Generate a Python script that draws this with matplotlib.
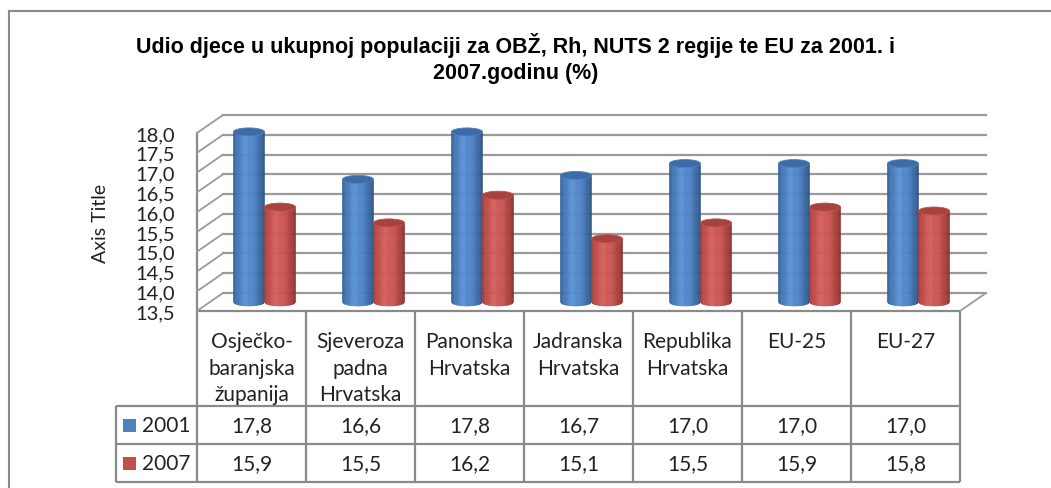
import numpy as np
import matplotlib
matplotlib.use("Agg")
import matplotlib.pyplot as plt
import matplotlib.transforms as mtransforms
from matplotlib.patches import Polygon, Ellipse, Rectangle, ConnectionPatch
from matplotlib.colors import LinearSegmentedColormap

# === DATA ===
categories = ["Osječko-\nbaranjska\nžupanija", "Sjeveroza\npadna\nHrvatska", "Panonska\nHrvatska",
              "Jadranska\nHrvatska", "Republika\nHrvatska", "EU-25", "EU-27"]
series_names = ["2001", "2007"]
values_2001 = [17.8, 16.6, 17.8, 16.7, 17.0, 17.0, 17.0]
values_2007 = [15.9, 15.5, 16.2, 15.1, 15.5, 15.9, 15.8]
y_ticks = [13.5, 14.0, 14.5, 15.0, 15.5, 16.0, 16.5, 17.0, 17.5, 18.0]
title = "Udio djece u ukupnoj populaciji za OBŽ, Rh, NUTS 2 regije te EU za 2001. i\n2007.godinu (%)"
y_title = "Axis Title"

# === LAYOUT (pixel) ===
W, H = 1051, 489
PL, PR, PT, PB = 197, 960, 134, 312     # front plane of the plot area
DX, DY = 26, 18                         # 3D depth offset
TL, T_HEAD, T_ROW = 116, 95, 38         # data table
BAR_W = 0.285
EH_PX = 8
N = len(categories)

plt.rcParams['font.family'] = ['Lato', 'DejaVu Sans']
GRID = '#9a9a9a'
LINE = '#8a8a8a'
TXT = '#222222'

blue_cmap = LinearSegmentedColormap.from_list("b", [(0, "#2c5a90"), (0.12, "#4676b4"), (0.4, "#5a92d6"),
                                                    (0.7, "#4a7fc0"), (0.9, "#3a679f"), (1, "#2b5080")])
red_cmap = LinearSegmentedColormap.from_list("r", [(0, "#9a3633"), (0.12, "#bd4c49"), (0.4, "#d65f5c"),
                                                   (0.7, "#c44f4c"), (0.9, "#a43f3c"), (1, "#872d2b")])
series_style = [(values_2001, blue_cmap, "#3c6ba8", "#4f81bd"), (values_2007, red_cmap, "#a8423f", "#c0504d")]


def px_box(l, t, r, b):
    return [l / W, 1 - b / H, (r - l) / W, (b - t) / H]


fig = plt.figure(figsize=(W / 100, H / 100), dpi=100)

ax = fig.add_axes(px_box(PL, PT, PR, PB))
ax.set_xlim(0, N)
ax.set_ylim(y_ticks[0], y_ticks[-1])
ax.patch.set_visible(False)
for s in ax.spines.values():
    s.set_visible(False)
ax.set_xticks([])
ax.set_yticks(y_ticks)
ax.set_yticklabels([f"{v:.1f}".replace(".", ",") for v in y_ticks])
ax.tick_params(axis='y', length=0, pad=16, labelsize=14.5, labelcolor=TXT)
ax.text(-0.127, 0.5, y_title, transform=ax.transAxes, rotation=90, ha='center', va='center',
        fontsize=14, color=TXT)

sy = (PB - PT) / (y_ticks[-1] - y_ticks[0])
EH = EH_PX / sy


def depth(d):
    return ax.transData + mtransforms.Affine2D().translate(DX * d, DY * d)


# back wall gridlines + left wall diagonals
for v in y_ticks:
    ax.plot([0, N], [v, v], transform=depth(1), color=GRID, lw=1.6, clip_on=False, zorder=1)
    fig.add_artist(ConnectionPatch((0, v), (0, v), coordsA=ax.transData, coordsB=depth(1),
                                   color=GRID, lw=1.3, zorder=1))
fig.add_artist(ConnectionPatch((N, y_ticks[0]), (N, y_ticks[0]), coordsA=ax.transData, coordsB=depth(1),
                               color=GRID, lw=1.3, zorder=1))
ax.plot([0, 0], [y_ticks[0], y_ticks[-1]], color=LINE, lw=1.6, clip_on=False, zorder=2)


def draw_cylinder(cx, top, cmap, top_color, edge_color, nstrip=28):
    tr = depth(0.5)
    base = y_ticks[0]
    edges = np.linspace(cx - BAR_W / 2, cx + BAR_W / 2, nstrip + 1)
    for k in range(nstrip):
        x0, x1 = edges[k], edges[k + 1]
        u0 = (x0 - cx) / (BAR_W / 2)
        u1 = (x1 - cx) / (BAR_W / 2)
        b0 = base - EH / 2 * np.sqrt(max(0.0, 1 - u0 ** 2))
        b1 = base - EH / 2 * np.sqrt(max(0.0, 1 - u1 ** 2))
        c = cmap((k + 0.5) / nstrip)
        ax.add_patch(Polygon([(x0, top), (x1, top), (x1, b1), (x0, b0)], closed=True, facecolor=c,
                             edgecolor=c, lw=0.4, transform=tr, clip_on=False, zorder=3))
    ax.add_patch(Ellipse((cx, top), BAR_W, EH, facecolor=top_color, edgecolor=edge_color, lw=0.6,
                         transform=tr, clip_on=False, zorder=4))


for i in range(N):
    for s, (vals, cmap, topc, edgec) in enumerate(series_style):
        cx = i + 0.5 + (s - 0.5) * BAR_W
        draw_cylinder(cx, vals[i], cmap, topc, edgec)

# === DATA TABLE ===
colw = (PR - PL) / N
leg = (PL - TL) / colw
tab = fig.add_axes(px_box(PL, PB, PR, PB + T_HEAD + 2 * T_ROW))
tab.set_xlim(0, N)
tab.set_ylim(T_HEAD + 2 * T_ROW, 0)
tab.axis('off')
bottom = T_HEAD + 2 * T_ROW
tab.vlines(range(N + 1), 0, bottom, color=LINE, lw=1.6, clip_on=False)
tab.hlines([0], 0, N, color=LINE, lw=1.6, clip_on=False)
tab.hlines([T_HEAD, T_HEAD + T_ROW, bottom], -leg, N, color=LINE, lw=1.6, clip_on=False)
tab.vlines([-leg], T_HEAD, bottom, color=LINE, lw=1.6, clip_on=False)

for i, cat in enumerate(categories):
    tab.text(i + 0.5, 20, cat, ha='center', va='top', fontsize=15, linespacing=1.42, color=TXT)

for r, (name, (vals, cmap, topc, edgec)) in enumerate(zip(series_names, series_style)):
    yc = T_HEAD + T_ROW * (r + 0.5)
    for i, v in enumerate(vals):
        tab.text(i + 0.5, yc, f"{v:.1f}".replace(".", ","), ha='center', va='center', fontsize=15,
                 color=TXT)
    tab.add_patch(Rectangle((-leg + 7 / colw, yc - 6.5), 13 / colw, 13, facecolor=edgec,
                            edgecolor='none', clip_on=False))
    tab.text(-leg + 26 / colw, yc, name, ha='left', va='center', fontsize=15, color=TXT)

# === TITLE & BORDER ===
fig.text(516 / W, 1 - 58.5 / H, title, ha='center', va='center', fontsize=15.5, fontweight='bold',
         family='Liberation Sans', linespacing=1.25)
fig.add_artist(Rectangle((9 / W, -0.1), 1.2, 1.1 - 12 / H, transform=fig.transFigure, fill=False,
                         edgecolor=LINE, lw=1.5))

fig.savefig("out.png", dpi=100)
